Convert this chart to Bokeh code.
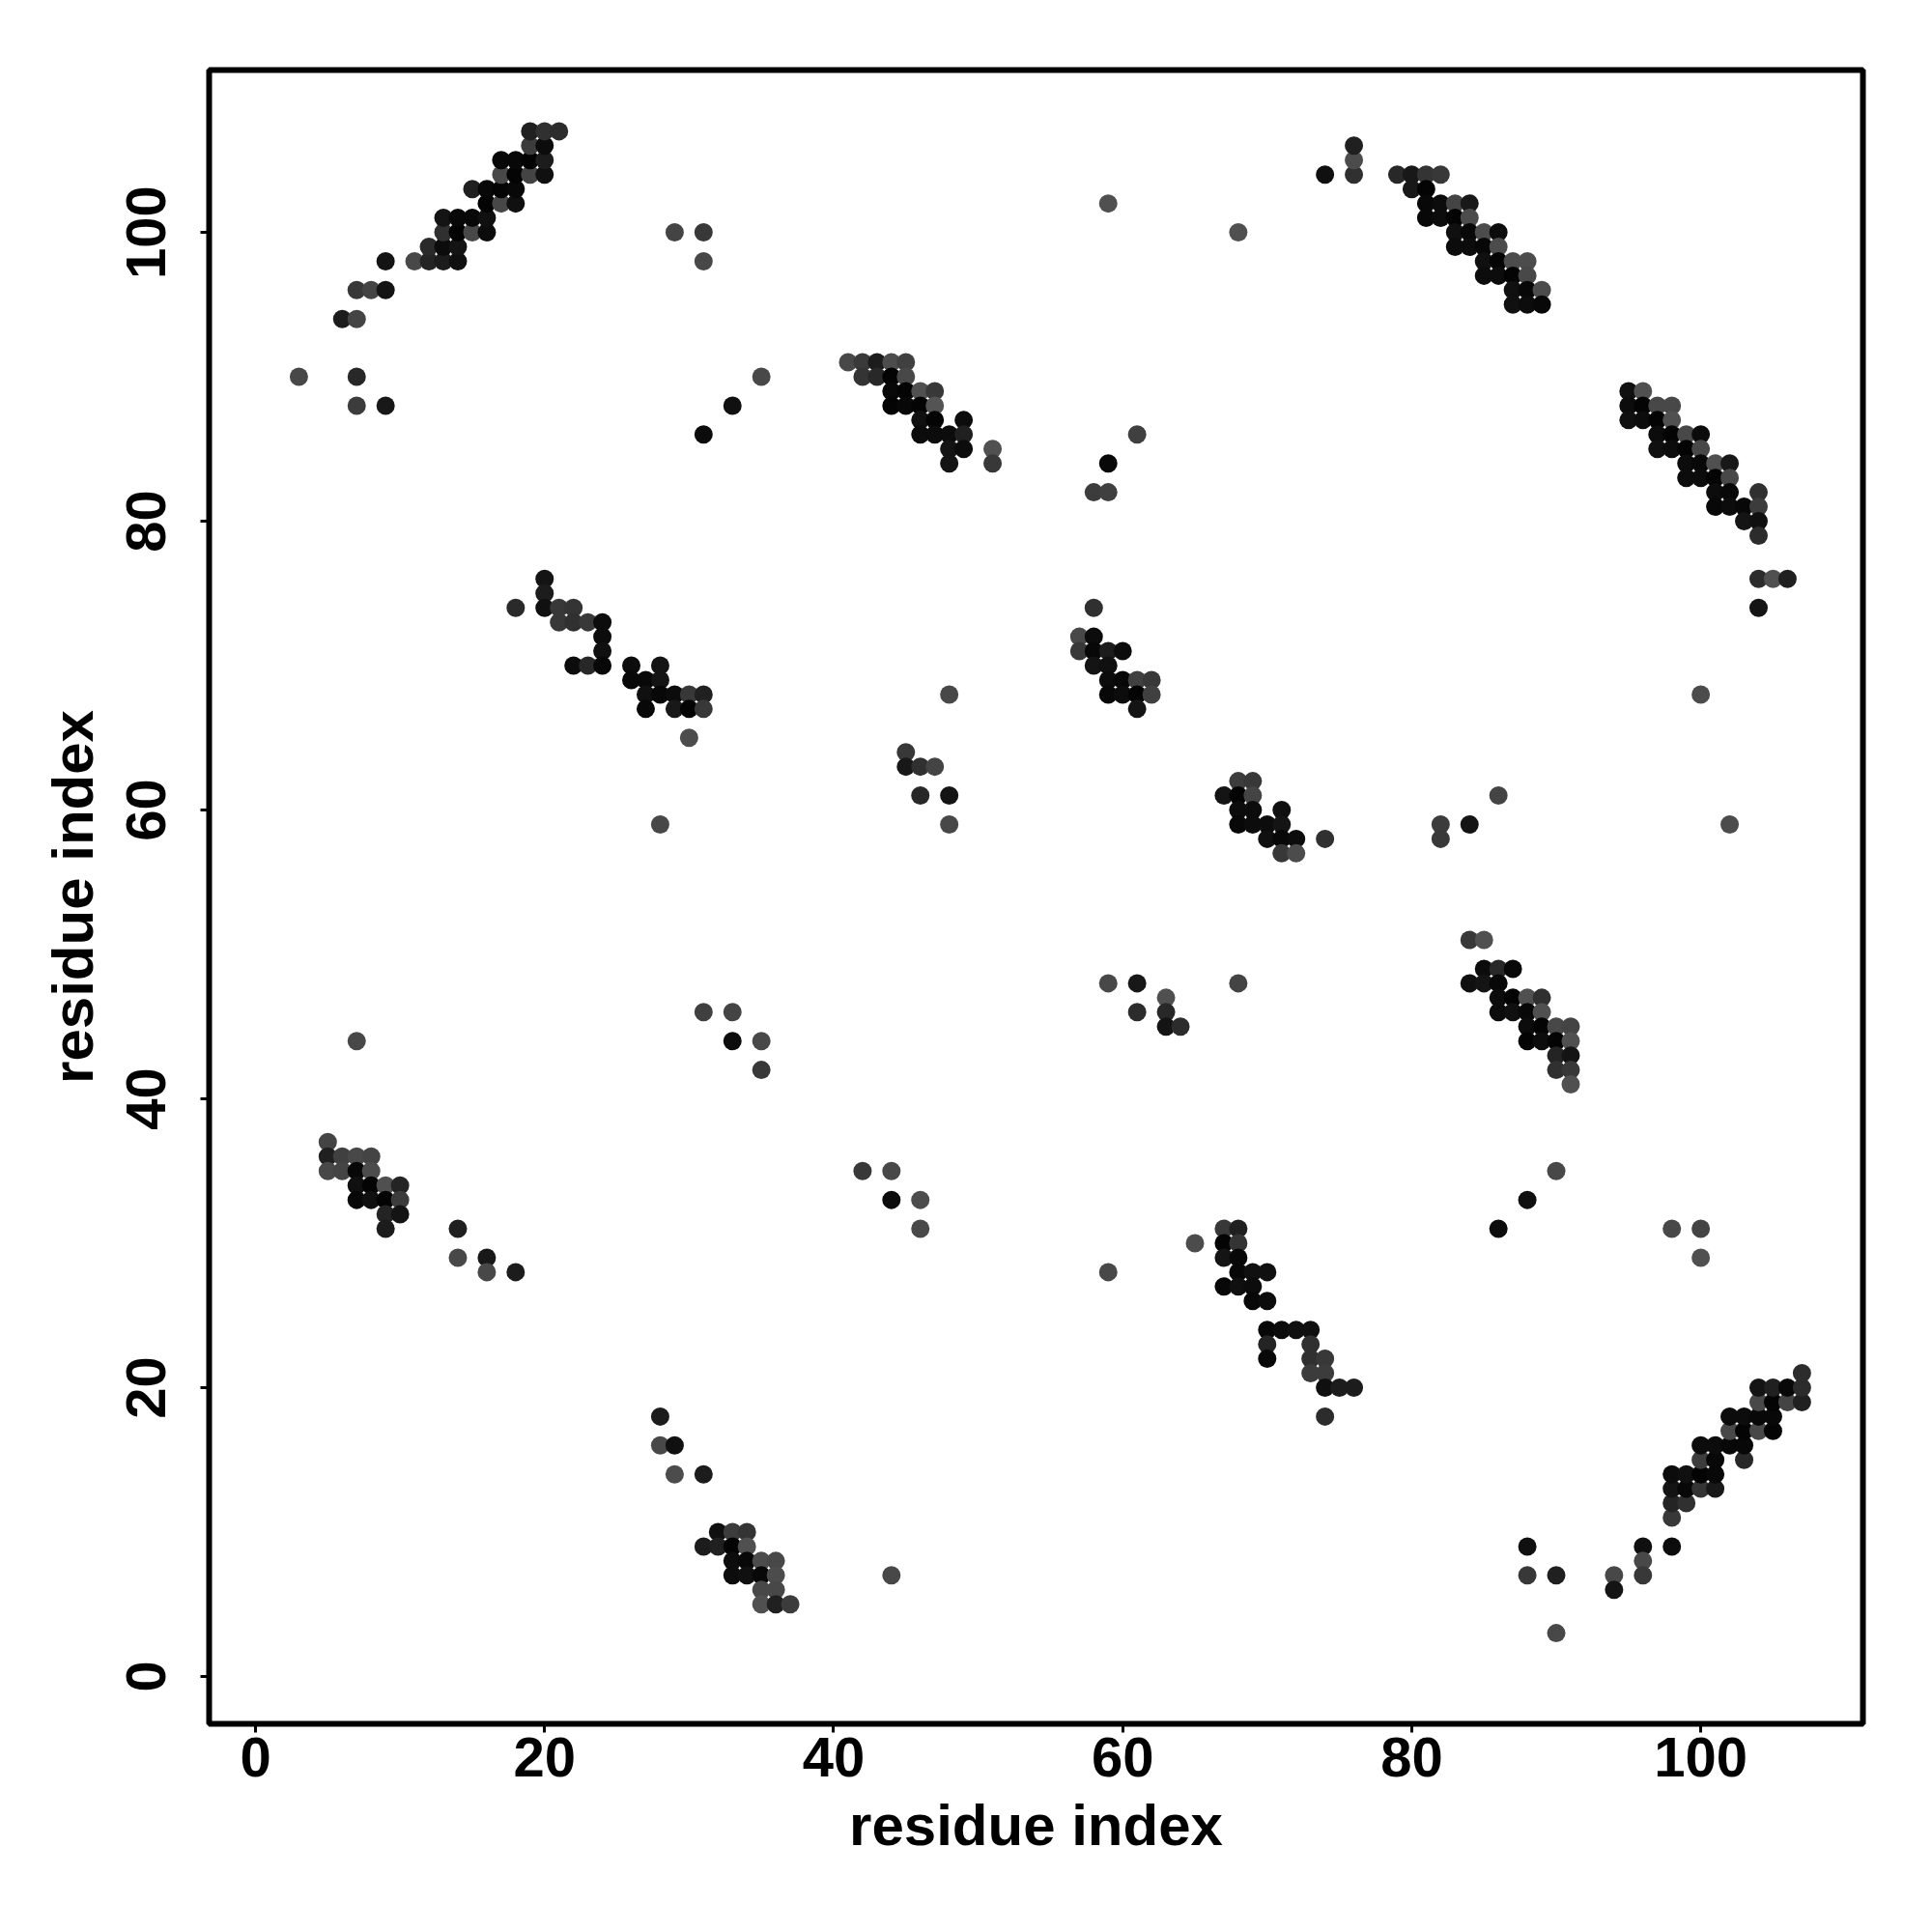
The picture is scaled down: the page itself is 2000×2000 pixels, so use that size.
from bokeh.embed import file_html
from bokeh.models import ColumnDataSource, FixedTicker, Range1d
from bokeh.plotting import figure
from bokeh.resources import INLINE

# Each entry: (residue x, residue y, grey level 0-255)
upper_left = [
    (3,90,0x48),(7,90,0x28),(7,88,0x3c),(9,88,0x18),(6,94,0x1c),(7,94,0x44),(7,96,0x38),(8,96,0x44),(9,96,0x14),(9,98,0x14),
    (11,98,0x48),(12,98,0x24),(13,98,0x1c),(14,98,0x10),(12,99,0x2a),(13,99,0x0c),(14,99,0x14),
    (13,100,0x30),(14,100,0x04),(15,100,0x48),(16,100,0x0c),(13,101,0x14),(14,101,0x08),(15,101,0x08),(16,101,0x10),
    (16,102,0x04),(17,102,0x48),(18,102,0x10),(15,103,0x20),(16,103,0x08),(17,103,0x04),(18,103,0x08),
    (17,104,0x48),(18,104,0x04),(19,104,0x44),(20,104,0x10),(17,105,0x08),(18,105,0x08),(19,105,0x04),(20,105,0x1c),
    (19,106,0x3c),(20,106,0x0c),(19,107,0x20),(20,107,0x30),(21,107,0x2c),
]
top_sparse = [
    (29,100,0x44),(31,100,0x38),(31,98,0x48),(35,90,0x48),(33,88,0x10),(31,86,0x0c),
    (61,86,0x40),(59,84,0x08),(58,82,0x3c),(59,82,0x40),(68,100,0x50),(59,102,0x50),
]
strand_41 = [
    (41,91,0x48),(42,91,0x3a),(43,91,0x1c),(44,91,0x4c),(45,91,0x40),(42,90,0x34),(43,90,0x28),(44,90,0x04),(45,90,0x48),
    (44,89,0x08),(45,89,0x04),(46,89,0x50),(47,89,0x38),(44,88,0x04),(45,88,0x08),(46,88,0x04),(47,88,0x54),
    (46,87,0x10),(47,87,0x04),(49,87,0x0c),(46,86,0x0c),(47,86,0x0c),(48,86,0x0c),(49,86,0x20),
    (48,85,0x14),(49,85,0x0c),(51,85,0x50),(48,84,0x14),(51,84,0x38),
]
strand_79 = [
    (74,104,0x10),(76,104,0x30),(76,105,0x4c),(76,106,0x20),
    (79,104,0x28),(80,104,0x18),(81,104,0x34),(82,104,0x38),(80,103,0x18),(81,103,0x04),
    (81,102,0x08),(82,102,0x0c),(83,102,0x44),(84,102,0x18),(81,101,0x08),(82,101,0x0c),(83,101,0x04),(84,101,0x4c),
    (83,100,0x10),(84,100,0x08),(85,100,0x4c),(86,100,0x0c),(83,99,0x0c),(84,99,0x0c),(85,99,0x08),(86,99,0x4c),
    (85,98,0x10),(86,98,0x04),(87,98,0x4c),(88,98,0x4c),(85,97,0x0c),(86,97,0x0c),(87,97,0x04),(88,97,0x48),
    (87,96,0x10),(88,96,0x08),(89,96,0x4c),(87,95,0x10),(88,95,0x0c),(89,95,0x08),
]
strand_95 = [
    (95,89,0x10),(96,89,0x50),(95,88,0x0c),(96,88,0x04),(97,88,0x48),(98,88,0x48),(95,87,0x10),(96,87,0x0c),(97,87,0x04),(98,87,0x50),
    (97,86,0x0c),(98,86,0x04),(99,86,0x48),(100,86,0x0c),(97,85,0x10),(98,85,0x0c),(99,85,0x04),(100,85,0x48),
    (99,84,0x0c),(100,84,0x08),(101,84,0x50),(102,84,0x18),(99,83,0x0c),(100,83,0x0c),(101,83,0x04),(102,83,0x48),
    (101,82,0x0c),(102,82,0x08),(104,82,0x30),(101,81,0x08),(102,81,0x0c),(103,81,0x08),(104,81,0x3c),
    (103,80,0x14),(104,80,0x10),(104,79,0x2c),(104,76,0x2c),(105,76,0x50),(106,76,0x20),(104,74,0x14),
]
strand_20 = [
    (18,74,0x2a),(20,76,0x14),(20,75,0x1c),(20,74,0x10),(21,74,0x38),(22,74,0x34),
    (21,73,0x38),(22,73,0x30),(23,73,0x38),(24,73,0x0c),(24,72,0x0c),(24,71,0x10),
    (22,70,0x0c),(23,70,0x28),(24,70,0x08),(26,70,0x0c),(28,70,0x14),(26,69,0x08),(27,69,0x08),(28,69,0x14),
    (27,68,0x10),(28,68,0x08),(29,68,0x0c),(30,68,0x38),(31,68,0x20),(27,67,0x08),(29,67,0x18),(30,67,0x04),(31,67,0x38),
    (30,65,0x4c),
]
middle_sparse = [
    (28,59,0x48),(48,68,0x48),(45,64,0x38),(45,63,0x18),(46,63,0x30),(47,63,0x44),(46,61,0x28),(48,61,0x14),(48,59,0x48),
    (86,61,0x44),(84,59,0x14),(82,59,0x3c),(82,58,0x38),(102,59,0x4c),(100,68,0x4c),
]
strand_57 = [
    (58,74,0x30),(57,72,0x48),(58,72,0x0c),(57,71,0x38),(58,71,0x08),(59,71,0x1c),(60,71,0x0c),(58,70,0x14),(59,70,0x10),
    (59,69,0x0c),(60,69,0x08),(61,69,0x40),(62,69,0x38),(59,68,0x08),(60,68,0x0c),(61,68,0x04),(62,68,0x40),(61,67,0x14),
]
strand_67 = [
    (68,62,0x3c),(69,62,0x38),(67,61,0x14),(68,61,0x04),(69,61,0x44),(68,60,0x0c),(69,60,0x0c),(71,60,0x10),
    (68,59,0x08),(69,59,0x0c),(70,59,0x0c),(71,59,0x14),(70,58,0x10),(71,58,0x08),(72,58,0x0c),(74,58,0x30),
    (71,57,0x38),(72,57,0x4c),
]
strand_84 = [
    (84,51,0x38),(85,51,0x50),(85,49,0x0c),(86,49,0x28),(87,49,0x08),(84,48,0x10),(85,48,0x14),(86,48,0x08),
    (86,47,0x0c),(87,47,0x04),(88,47,0x50),(89,47,0x30),(86,46,0x0c),(87,46,0x10),(88,46,0x08),(89,46,0x50),
    (88,45,0x0c),(89,45,0x04),(90,45,0x48),(91,45,0x44),(88,44,0x04),(89,44,0x0c),(90,44,0x04),(91,44,0x50),
    (90,43,0x24),(91,43,0x14),(90,42,0x30),(91,42,0x38),(91,41,0x50),
]
lower_sparse = [
    (59,48,0x48),(61,48,0x18),(68,48,0x44),(61,46,0x2c),(63,47,0x50),(63,46,0x28),(63,45,0x14),(64,45,0x2c),
    (31,46,0x40),(33,46,0x44),(33,44,0x0c),(35,44,0x48),(35,42,0x38),(7,44,0x48),
    (14,31,0x20),(14,29,0x48),(16,29,0x18),(16,28,0x48),(18,28,0x1c),
    (42,35,0x38),(44,35,0x48),(44,33,0x0c),(46,33,0x4c),(46,31,0x48),(59,28,0x48),(65,30,0x4c),
    (86,31,0x0c),(88,33,0x10),(90,35,0x48),(98,31,0x48),(100,31,0x44),(100,29,0x50),
]
strand_5 = [
    (5,37,0x44),(5,36,0x20),(6,36,0x40),(7,36,0x48),(8,36,0x44),(5,35,0x48),(6,35,0x44),(7,35,0x08),(8,35,0x4c),
    (7,34,0x10),(8,34,0x04),(9,34,0x50),(10,34,0x24),(7,33,0x08),(8,33,0x10),(9,33,0x04),(10,33,0x3c),
    (9,32,0x24),(10,32,0x14),(9,31,0x1c),
]
strand_67b = [
    (67,31,0x38),(68,31,0x20),(67,30,0x04),(68,30,0x34),(67,29,0x14),(68,29,0x08),(68,28,0x08),(69,28,0x10),(70,28,0x10),
    (67,27,0x08),(68,27,0x10),(69,27,0x0c),(69,26,0x08),(70,26,0x0c),
    (70,24,0x08),(71,24,0x0c),(72,24,0x10),(73,24,0x10),(70,23,0x24),(73,23,0x30),(70,22,0x08),(73,22,0x30),(74,22,0x38),
    (73,21,0x3c),(74,21,0x3c),(74,20,0x10),(75,20,0x1c),(76,20,0x1c),(74,18,0x2c),
]
lower_right = [
    (98,11,0x38),(98,12,0x24),(99,12,0x30),(98,13,0x14),(99,13,0x08),(100,13,0x34),(101,13,0x18),
    (98,14,0x0c),(99,14,0x10),(100,14,0x04),(101,14,0x08),(100,15,0x3c),(101,15,0x08),(103,15,0x28),
    (100,16,0x0c),(101,16,0x0c),(102,16,0x08),(103,16,0x08),(102,17,0x48),(103,17,0x04),(104,17,0x48),(105,17,0x04),
    (102,18,0x0c),(103,18,0x0c),(104,18,0x08),(105,18,0x08),(104,19,0x48),(105,19,0x04),(106,19,0x44),(107,19,0x20),
    (104,20,0x14),(105,20,0x20),(106,20,0x08),(107,20,0x2c),(107,21,0x2c),(96,9,0x10),(98,9,0x0c),
]
bottom_sparse = [
    (96,8,0x48),(96,7,0x38),(94,7,0x48),(94,6,0x14),(90,7,0x20),(88,7,0x38),(88,9,0x10),(90,3,0x48),(44,7,0x48),
    (28,18,0x1c),(28,16,0x48),(29,16,0x10),(29,14,0x4c),(31,14,0x1c),
]
strand_31 = [
    (32,10,0x10),(33,10,0x3c),(34,10,0x34),(31,9,0x1c),(32,9,0x20),(33,9,0x04),(34,9,0x50),
    (33,8,0x0c),(34,8,0x08),(35,8,0x4c),(36,8,0x48),(33,7,0x0c),(34,7,0x10),(35,7,0x08),(36,7,0x4c),
    (35,6,0x48),(36,6,0x48),(35,5,0x50),(36,5,0x20),(37,5,0x3c),
]
tick_values = [0, 20, 40, 60, 80, 100]
axis_label = "residue index"

contacts = (upper_left + top_sparse + strand_41 + strand_79 + strand_95 + strand_20 + middle_sparse
            + strand_57 + strand_67 + strand_84 + lower_sparse + strand_5 + strand_67b + lower_right
            + bottom_sparse + strand_31)
source = ColumnDataSource(data=dict(
    x=[c[0] for c in contacts],
    y=[c[1] for c in contacts],
    color=[f"#{c[2]:02x}{c[2]:02x}{c[2]:02x}" for c in contacts],
))

FONT = "Liberation Sans"
p = figure(
    frame_width=1712, frame_height=1712,
    min_border_left=216, min_border_top=72, min_border_right=56, min_border_bottom=190,
    x_range=Range1d(-3.21, 111.22), y_range=Range1d(-3.28, 111.24),
    output_backend="svg", toolbar_location=None,
    background_fill_color="white", border_fill_color="white",
)
p.grid.visible = False
p.outline_line_color = "black"
p.outline_line_width = 6
p.scatter("x", "y", source=source, size=19, marker="circle", fill_color="color", line_color=None)

for axis in (p.xaxis[0], p.yaxis[0]):
    axis.ticker = FixedTicker(ticks=tick_values)
    axis.axis_line_color = None
    axis.minor_tick_line_color = None
    axis.major_tick_line_color = "black"
    axis.major_tick_line_width = 3
    axis.major_tick_in = 0
    axis.major_tick_out = 9
    axis.major_label_text_font = FONT
    axis.major_label_text_font_style = "bold"
    axis.major_label_text_font_size = "58px"
    axis.major_label_text_color = "black"
    axis.axis_label = axis_label
    axis.axis_label_text_font = FONT
    axis.axis_label_text_font_style = "bold"
    axis.axis_label_text_font_size = "60px"
    axis.axis_label_text_color = "black"

p.xaxis[0].major_label_standoff = 5
p.xaxis[0].axis_label_standoff = 14
p.yaxis[0].major_label_orientation = "vertical"
p.yaxis[0].major_label_standoff = 36
p.yaxis[0].axis_label_standoff = 20

open("out.html", "w").write(file_html(p, INLINE))
